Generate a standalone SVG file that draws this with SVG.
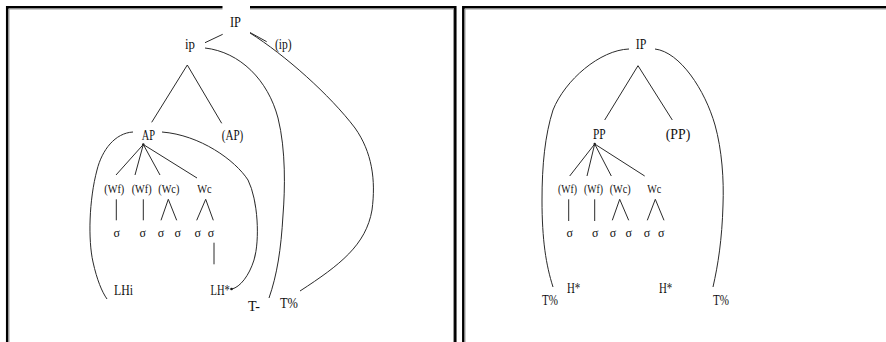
<svg xmlns="http://www.w3.org/2000/svg" width="886" height="342" viewBox="0 0 886 342">
<style>
text{font-family:"Liberation Serif","Times New Roman",serif;fill:#111}
.n{font-size:14px;text-anchor:middle}
.s{font-size:14px}
.w{font-size:11.5px;text-anchor:middle}
.g{font-size:12px;text-anchor:middle}
.c{fill:none;stroke:#2a2a2a;stroke-width:1}
.fr{fill:none;stroke:#000;stroke-width:2.5}
.fi{fill:none;stroke:#999;stroke-width:1}
</style>
<rect width="886" height="342" fill="#fff"/>
<g id="frames">
<path class="fr" d="M7.2,343 V7.2 H455.3 V343"/>
<path class="fi" d="M9,343 V9 H453.5 V343"/>
<path class="fr" d="M463.3,343 V7.2 H887"/>
<path class="fi" d="M465,343 V9 H887"/>
</g>
<rect x="222.5" y="4" width="27.5" height="26" fill="#fff"/>
<g id="connectors">
<line class="c" x1="222.7" y1="34.3" x2="205" y2="42.7"/>
<line class="c" x1="250" y1="32.5" x2="266.7" y2="41.7"/>
<path class="c" d="M250,33 C285,55 330,95 355,128 C372,152 376,180 372,210 C366,245 340,265 300,291"/>
<path class="c" d="M205,48 C240,52 268,80 278,118 C286,150 285,190 283,215 C281,250 277,275 269,298"/>
<line class="c" x1="187.3" y1="65" x2="151.7" y2="122.3"/>
<line class="c" x1="187.3" y1="65" x2="221.7" y2="123.3"/>
<path class="c" d="M133,132 C115,133 102,150 97,170 C89,200 88,240 93,262 C97,280 102,292 107,299"/>
<path class="c" d="M162,132 C200,135 235,160 248,180 C258,200 260,240 254,260 C249,276 240,287 232,289"/>
<circle cx="231.5" cy="289" r="1.3" fill="#1a1a1a"/>
<circle cx="143.3" cy="144.5" r="1.2" fill="#1a1a1a"/>
<line class="c" x1="143.3" y1="144.5" x2="116" y2="175"/>
<line class="c" x1="143.3" y1="144.5" x2="135" y2="175"/>
<line class="c" x1="143.3" y1="144.5" x2="160" y2="175"/>
<line class="c" x1="143.3" y1="144.5" x2="197" y2="178"/>
<line class="c" x1="116.3" y1="199.3" x2="116.3" y2="220.3"/>
<line class="c" x1="143.3" y1="199.3" x2="143.3" y2="220.3"/>
<polyline class="c" points="161,220.3 168.3,199.3 176.7,220.3"/>
<polyline class="c" points="196.7,220.3 205.7,199.3 213.3,220.3"/>
<line class="c" x1="214" y1="242.7" x2="214" y2="264.3"/>
<path class="c" d="M629,49 C600,50 565,80 553,110 C545,135 542,165 542,200 C542,240 546,265 553,287"/>
<path class="c" d="M655,49 C680,52 705,90 715,125 C722,150 724,180 723,205 C722,240 718,265 713,287"/>
<line class="c" x1="638" y1="65.7" x2="604.7" y2="120"/>
<line class="c" x1="638" y1="65.7" x2="672.3" y2="120"/>
<circle cx="594.7" cy="144" r="1.2" fill="#1a1a1a"/>
<line class="c" x1="594.7" y1="144" x2="569.7" y2="176"/>
<line class="c" x1="594.7" y1="144" x2="587" y2="176"/>
<line class="c" x1="594.7" y1="144" x2="611.3" y2="176"/>
<line class="c" x1="594.7" y1="144" x2="644.7" y2="176"/>
<line class="c" x1="568.7" y1="199.3" x2="568.7" y2="221"/>
<line class="c" x1="594.7" y1="199.3" x2="594.7" y2="221"/>
<polyline class="c" points="612.3,220.3 619.7,199.3 628.7,220.3"/>
<polyline class="c" points="647.3,220.3 655.3,199.3 664,220.3"/>
</g>
<g id="L-IP"><text class="n" x="235.5" y="27" textLength="11" lengthAdjust="spacingAndGlyphs">IP</text></g>
<g id="L-ip"><text class="n" x="190" y="49" textLength="10" lengthAdjust="spacingAndGlyphs">ip</text></g>
<g id="L-ip-opt"><text class="n" x="283.3" y="49" textLength="16.7" lengthAdjust="spacingAndGlyphs">(ip)</text></g>
<g id="L-AP"><text class="n" x="148.3" y="140" textLength="13.3" lengthAdjust="spacingAndGlyphs">AP</text></g>
<g id="L-AP-opt"><text class="n" x="232.5" y="140" textLength="21.6" lengthAdjust="spacingAndGlyphs">(AP)</text></g>
<g id="L-Wf1"><text class="w" x="114.3" y="192.5" textLength="20" lengthAdjust="spacingAndGlyphs">(Wf)</text></g>
<g id="L-Wf2"><text class="w" x="141.7" y="192.5" textLength="20" lengthAdjust="spacingAndGlyphs">(Wf)</text></g>
<g id="L-Wc1"><text class="w" x="168.8" y="192.5" textLength="21" lengthAdjust="spacingAndGlyphs">(Wc)</text></g>
<g id="L-Wc2"><text class="w" x="204.5" y="192.5" textLength="14.4" lengthAdjust="spacingAndGlyphs">Wc</text></g>
<g id="L-s1"><text class="g" x="116.7" y="237">σ</text></g>
<g id="L-s2"><text class="g" x="142.7" y="237">σ</text></g>
<g id="L-s3"><text class="g" x="161" y="237">σ</text></g>
<g id="L-s4"><text class="g" x="177.7" y="237">σ</text></g>
<g id="L-s5"><text class="g" x="197.7" y="237">σ</text></g>
<g id="L-s6"><text class="g" x="211" y="237">σ</text></g>
<g id="L-LHi"><text class="s" x="114" y="294.5" textLength="19" lengthAdjust="spacingAndGlyphs">LHi</text></g>
<g id="L-LHstar"><text class="s" x="210.5" y="294.5" textLength="19.3" lengthAdjust="spacingAndGlyphs">LH*</text></g>
<g id="L-Tminus"><text class="s" x="248" y="311" textLength="12" lengthAdjust="spacingAndGlyphs">T-</text></g>
<g id="L-Tpct"><text class="s" x="280" y="308" textLength="18" lengthAdjust="spacingAndGlyphs">T%</text></g>
<g id="R-IP"><text class="n" x="641" y="48.5" textLength="10.6" lengthAdjust="spacingAndGlyphs">IP</text></g>
<g id="R-PP"><text class="n" x="599.3" y="138.5" textLength="12.7" lengthAdjust="spacingAndGlyphs">PP</text></g>
<g id="R-PP-opt"><text class="n" x="678" y="138.5" textLength="24.6" lengthAdjust="spacingAndGlyphs">(PP)</text></g>
<g id="R-Wf1"><text class="w" x="567.5" y="192.7" textLength="19" lengthAdjust="spacingAndGlyphs">(Wf)</text></g>
<g id="R-Wf2"><text class="w" x="593.5" y="192.7" textLength="19" lengthAdjust="spacingAndGlyphs">(Wf)</text></g>
<g id="R-Wc1"><text class="w" x="620.2" y="192.7" textLength="21" lengthAdjust="spacingAndGlyphs">(Wc)</text></g>
<g id="R-Wc2"><text class="w" x="654.3" y="192.7" textLength="14" lengthAdjust="spacingAndGlyphs">Wc</text></g>
<g id="R-s1"><text class="g" x="569.7" y="237">σ</text></g>
<g id="R-s2"><text class="g" x="595.3" y="237">σ</text></g>
<g id="R-s3"><text class="g" x="613" y="237">σ</text></g>
<g id="R-s4"><text class="g" x="628.7" y="237">σ</text></g>
<g id="R-s5"><text class="g" x="647" y="237">σ</text></g>
<g id="R-s6"><text class="g" x="661.3" y="237">σ</text></g>
<g id="R-Tpct1"><text class="s" x="542" y="304.5" textLength="16" lengthAdjust="spacingAndGlyphs">T%</text></g>
<g id="R-Hstar1"><text class="s" x="567" y="292.7" textLength="13.3" lengthAdjust="spacingAndGlyphs">H*</text></g>
<g id="R-Hstar2"><text class="s" x="659" y="292.7" textLength="13.3" lengthAdjust="spacingAndGlyphs">H*</text></g>
<g id="R-Tpct2"><text class="s" x="713" y="304.5" textLength="16" lengthAdjust="spacingAndGlyphs">T%</text></g>
</svg>
